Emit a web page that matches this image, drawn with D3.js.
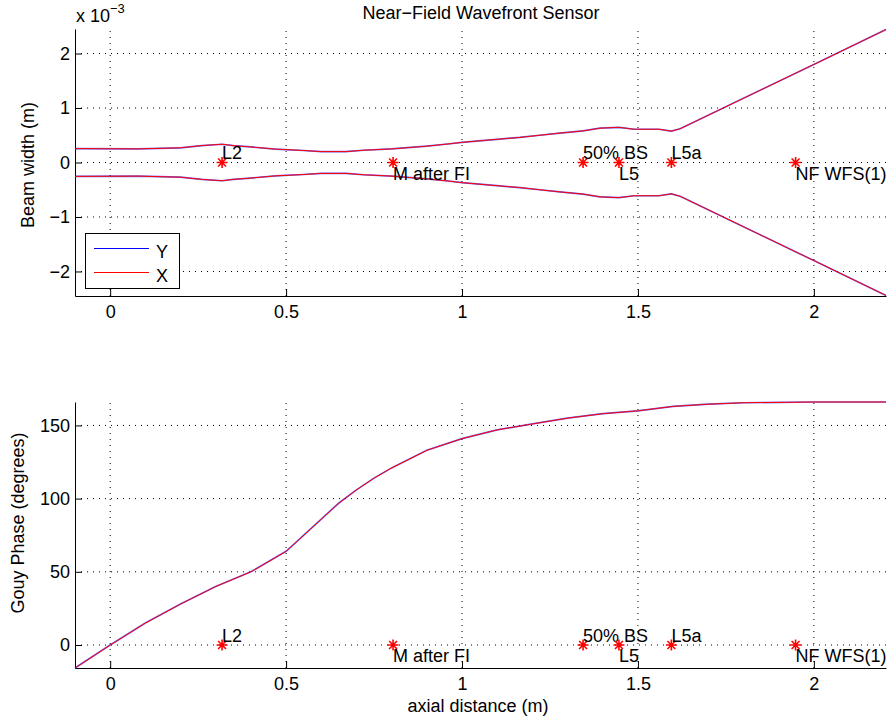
<!DOCTYPE html>
<meta charset="utf-8">
<style>
    body { margin: 0; background: #fff; }
    svg { font-family: "Liberation Sans", Arial, Helvetica, sans-serif; }
    .axis path, .axis line { stroke: #000; stroke-width: 1px; }
    .axis text { font-size: 18px; fill: #000; }
    .grid line { stroke: #000; stroke-width: 1px; stroke-dasharray: 1,5; }
    .lbl { font-size: 18px; fill: #000; }
</style>
<body>
<script src="https://cdn.jsdelivr.net/npm/d3@7"></script>
<script>

    var width = 892,
        height = 724;

    // axial positions (m) where the beam width / phase was read
    var zWidth = [-0.1, 0.08, 0.2, 0.26, 0.318, 0.35, 0.4, 0.47, 0.55, 0.6, 0.67, 0.72, 0.8, 0.9, 0.96, 1.0,
                  1.107, 1.164, 1.221, 1.278, 1.344, 1.392, 1.446, 1.49, 1.56, 1.595, 1.62, 2.0, 2.205];
    // half beam width (x 1e-3 m)
    var widthY = [0.255, 0.25, 0.27, 0.31, 0.335, 0.31, 0.285, 0.245, 0.22, 0.2, 0.2, 0.225, 0.25, 0.3, 0.34, 0.37,
                  0.43, 0.46, 0.5, 0.54, 0.58, 0.63, 0.645, 0.61, 0.61, 0.575, 0.62, 1.8, 2.44];
    var widthX = [0.255, 0.25, 0.27, 0.31, 0.335, 0.31, 0.285, 0.245, 0.22, 0.2, 0.2, 0.225, 0.25, 0.3, 0.34, 0.37,
                  0.43, 0.46, 0.5, 0.54, 0.58, 0.63, 0.645, 0.61, 0.61, 0.575, 0.62, 1.8, 2.44];

    var zPhase = [-0.1, 0, 0.1, 0.2, 0.3, 0.4, 0.5, 0.6, 0.65, 0.7, 0.75, 0.8, 0.9, 1.0, 1.1, 1.2, 1.3, 1.4, 1.5, 1.6, 1.7, 1.8, 2.0, 2.205];
    var gouyPhase = [-15.7, 0, 15, 28, 40, 50, 64, 86, 97, 106, 114, 121, 133, 141, 147, 151, 155, 158, 160, 163, 164.5, 165.5, 166, 166];

    // optics along the path
    var optNames = ["L2", "M after FI", "50% BS", "L5", "L5a", "NF WFS(1)"];
    var optZ = [0.318, 0.804, 1.344, 1.446, 1.595, 1.948];

    var xTicks = [0, 0.5, 1, 1.5, 2];
    var yTicksTop = [-2, -1, 0, 1, 2];
    var yTicksBot = [0, 50, 100, 150];

    var svg = d3.select("body").append("svg")
        .attr("width", width)
        .attr("height", height);

    var x = d3.scaleLinear().domain([-0.1, 2.205]).range([75, 886]);
    var yTop = d3.scaleLinear().domain([-2.45, 2.45]).range([296, 29]);
    var yBot = d3.scaleLinear().domain([-15.7, 166]).range([668, 402]);

    function star(g, cx, cy) {
        var r = 5.5, d = r * 0.72;
        var p = d3.path();
        p.moveTo(cx - r, cy); p.lineTo(cx + r, cy);
        p.moveTo(cx, cy - r); p.lineTo(cx, cy + r);
        p.moveTo(cx - d, cy - d); p.lineTo(cx + d, cy + d);
        p.moveTo(cx - d, cy + d); p.lineTo(cx + d, cy - d);
        g.append("path").attr("d", p.toString())
            .attr("stroke", "#ff0000").attr("stroke-width", 1.6).attr("fill", "none");
    }

    function panel(y, yTicks) {
        var g = svg.append("g");
        var x0 = x.range()[0], x1 = x.range()[1];
        var yb = y.range()[0], yt = y.range()[1];

        var grid = g.append("g").attr("class", "grid");
        grid.selectAll(".vx").data(xTicks).enter().append("line")
            .attr("x1", function (d) { return x(d); }).attr("x2", function (d) { return x(d); })
            .attr("y1", yb).attr("y2", yt);
        grid.selectAll(".hy").data(yTicks).enter().append("line")
            .attr("y1", function (d) { return y(d); }).attr("y2", function (d) { return y(d); })
            .attr("x1", x0).attr("x2", x1);

        g.append("g").attr("class", "axis")
            .attr("transform", "translate(0," + yb + ")")
            .call(d3.axisBottom(x).tickValues(xTicks).tickSizeInner(-7).tickSizeOuter(0).tickPadding(9)
                .tickFormat(d3.format("")));

        g.append("g").attr("class", "axis")
            .attr("transform", "translate(" + x0 + ",0)")
            .call(d3.axisLeft(y).tickValues(yTicks).tickSizeInner(-7).tickSizeOuter(0).tickPadding(5)
                .tickFormat(d3.format("")));

        g.selectAll(".axis .domain").attr("fill", "none");
        return g;
    }

    function markers(g, y) {
        optZ.forEach(function (z, i) {
            star(g, x(z), y(0));
            g.append("text").attr("class", "lbl")
                .attr("x", x(z)).attr("y", i % 2 === 0 ? y(0) - 3.5 : y(0) + 17)
                .text(optNames[i]);
        });
    }

    // ---- top: beam width
    var gTop = panel(yTop, yTicksTop);

    var lineY = d3.line().x(function (d) { return x(d[0]); }).y(function (d) { return yTop(d[1]); });
    [[widthY, "#0000ff", 1.7], [widthX, "#ff0000", 1]].forEach(function (s) {
        var up = zWidth.map(function (z, i) { return [z, s[0][i]]; });
        var dn = zWidth.map(function (z, i) { return [z, -s[0][i]]; });
        [up, dn].forEach(function (pts) {
            gTop.append("path").attr("d", lineY(pts))
                .attr("fill", "none").attr("stroke", s[1]).attr("stroke-width", s[2])
                .attr("stroke-opacity", s[1] === "#0000ff" ? 0.6 : 1);
        });
    });
    markers(gTop, yTop);

    // legend
    var leg = gTop.append("g");
    leg.append("rect").attr("x", 85.5).attr("y", 233.5).attr("width", 94).attr("height", 55)
        .attr("fill", "#fff").attr("stroke", "#000");
    [["Y", "#0000ff", 248.5], ["X", "#ff0000", 272.5]].forEach(function (e) {
        leg.append("line").attr("x1", 94).attr("x2", 149).attr("y1", e[2]).attr("y2", e[2])
            .attr("stroke", e[1]).attr("stroke-width", 1);
        leg.append("text").attr("class", "lbl").attr("x", 156).attr("y", e[2] + 9).text(e[0]);
    });

    // exponent
    var ex = svg.append("text").attr("class", "lbl").attr("x", 76).attr("y", 21.5);
    ex.append("tspan").text("x 10");
    ex.append("tspan").attr("dy", -9).style("font-size", "13px").text("\u22123");

    svg.append("text").attr("class", "lbl").attr("x", 481).attr("y", 19)
        .attr("text-anchor", "middle").text("Near\u2212Field Wavefront Sensor");

    svg.append("text").attr("class", "lbl").attr("text-anchor", "middle")
        .attr("transform", "translate(34,165) rotate(-90)").text("Beam width (m)");

    // ---- bottom: Gouy phase
    var gBot = panel(yBot, yTicksBot);
    var lineP = d3.line().x(function (d) { return x(d); }).y(function (d, i) { return yBot(gouyPhase[i]); });
    gBot.append("path").attr("d", lineP(zPhase))
        .attr("fill", "none").attr("stroke", "#0000ff").attr("stroke-width", 1.7).attr("stroke-opacity", 0.6);
    gBot.append("path").attr("d", lineP(zPhase))
        .attr("fill", "none").attr("stroke", "#ff0000").attr("stroke-width", 1);
    markers(gBot, yBot);

    svg.append("text").attr("class", "lbl").attr("text-anchor", "middle")
        .attr("transform", "translate(24,523) rotate(-90)").text("Gouy Phase (degrees)");

    svg.append("text").attr("class", "lbl").attr("x", 478).attr("y", 712)
        .attr("text-anchor", "middle").text("axial distance (m)");

</script>
</body>
